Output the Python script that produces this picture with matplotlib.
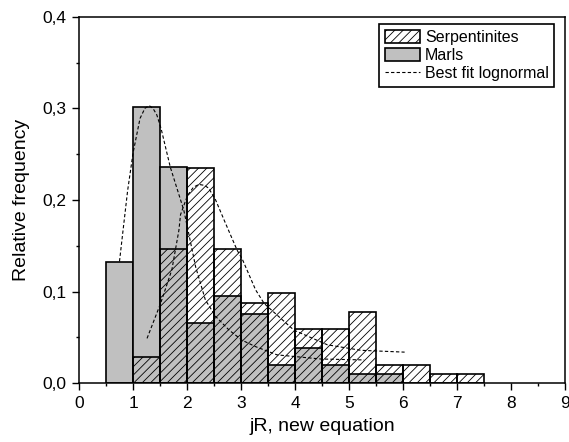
import matplotlib
matplotlib.use("Agg")
import matplotlib.pyplot as plt
from matplotlib.patches import Patch
from matplotlib.lines import Line2D
from matplotlib.ticker import MultipleLocator, FuncFormatter

plt.rcParams['font.family'] = ['Liberation Sans', 'DejaVu Sans']
plt.rcParams['hatch.linewidth'] = 0.6

bin_width = 0.5
marls_left = [0.5, 1.0, 1.5, 2.0, 2.5, 3.0, 3.5, 4.0, 4.5, 5.0, 5.5]
marls_freq = [0.132, 0.302, 0.236, 0.066, 0.095, 0.076, 0.020, 0.038, 0.020, 0.010, 0.010]

serp_left = [1.0, 1.5, 2.0, 2.5, 3.0, 3.5, 4.0, 4.5, 5.0, 5.5, 6.0, 6.5, 7.0]
serp_freq = [0.029, 0.147, 0.235, 0.147, 0.088, 0.098, 0.059, 0.059, 0.078, 0.020, 0.020, 0.010, 0.010]

marls_fit_x = [0.75, 0.81, 0.90, 1.00, 1.13, 1.22, 1.30, 1.37, 1.44, 1.52, 1.69, 1.94, 2.03, 2.16,
               2.34, 2.53, 2.78, 3.02, 3.27, 3.67, 4.48, 5.28]
marls_fit_y = [0.133, 0.164, 0.210, 0.251, 0.289, 0.300, 0.303, 0.300, 0.293, 0.278, 0.236, 0.189,
               0.164, 0.127, 0.091, 0.073, 0.058, 0.047, 0.040, 0.031, 0.0265, 0.0255]

serp_fit_x = [1.26, 1.51, 1.72, 1.85, 1.88, 2.01, 2.12, 2.22, 2.32, 2.40, 2.53, 2.71, 2.93, 3.02,
              3.27, 3.43, 3.98, 4.60, 5.22, 6.03]
serp_fit_y = [0.049, 0.087, 0.124, 0.167, 0.184, 0.205, 0.214, 0.217, 0.216, 0.213, 0.200, 0.175,
              0.145, 0.136, 0.102, 0.087, 0.058, 0.042, 0.036, 0.034]

x_ticks = [0, 1, 2, 3, 4, 5, 6, 7, 8, 9]
y_ticks = [0.0, 0.1, 0.2, 0.3, 0.4]

fig = plt.figure(figsize=(5.69, 4.42), dpi=100)
ax = fig.add_axes([79/569, 1 - 383.3/442, (565-79)/569, (383.3-16.7)/442])

gray = '#c0c0c0'
ax.bar(marls_left, marls_freq, width=bin_width, align='edge', color=gray,
       edgecolor='black', linewidth=1.2, zorder=2)
ax.bar(serp_left, serp_freq, width=bin_width, align='edge', facecolor='none',
       edgecolor='black', hatch='////', linewidth=1.2, zorder=3)

ls = dict(color='black', linewidth=0.8, linestyle=(0, (3, 2)), zorder=4)
ax.plot(marls_fit_x, marls_fit_y, **ls)
ax.plot(serp_fit_x, serp_fit_y, **ls)

ax.set_xlim(0, 9)
ax.set_ylim(0, 0.4)
ax.set_xticks(x_ticks)
ax.set_yticks(y_ticks)
ax.xaxis.set_minor_locator(MultipleLocator(0.5))
ax.yaxis.set_minor_locator(MultipleLocator(0.05))
ax.yaxis.set_major_formatter(FuncFormatter(lambda v, p: f"{v:.1f}".replace('.', ',')))
ax.tick_params(which='major', direction='out', length=5, width=1, labelsize=12.5,
               top=False, right=False, pad=4)
ax.tick_params(which='minor', direction='out', length=2.5, width=1, top=False, right=False)
for s in ax.spines.values():
    s.set_linewidth(1.1)

ax.set_xlabel('jR, new equation', fontsize=14, labelpad=5)
ax.set_ylabel('Relative frequency', fontsize=14, labelpad=9)

handles = [
    Patch(facecolor='white', edgecolor='black', hatch='////', linewidth=1.2),
    Patch(facecolor=gray, edgecolor='black', linewidth=1.2),
    Line2D([], [], color='black', linewidth=0.8, linestyle=(0, (3, 2))),
]
leg = ax.legend(handles, ['Serpentinites', 'Marls', 'Best fit lognormal'],
                loc='upper right', bbox_to_anchor=(0.978, 0.98), fontsize=11.5,
                frameon=True, fancybox=False, edgecolor='black', framealpha=1,
                handlelength=2.2, handleheight=0.9, handletextpad=0.3,
                borderpad=0.35, labelspacing=0.2, borderaxespad=0.0)
leg.get_frame().set_linewidth(1.2)

fig.savefig('out.png', dpi=100)
